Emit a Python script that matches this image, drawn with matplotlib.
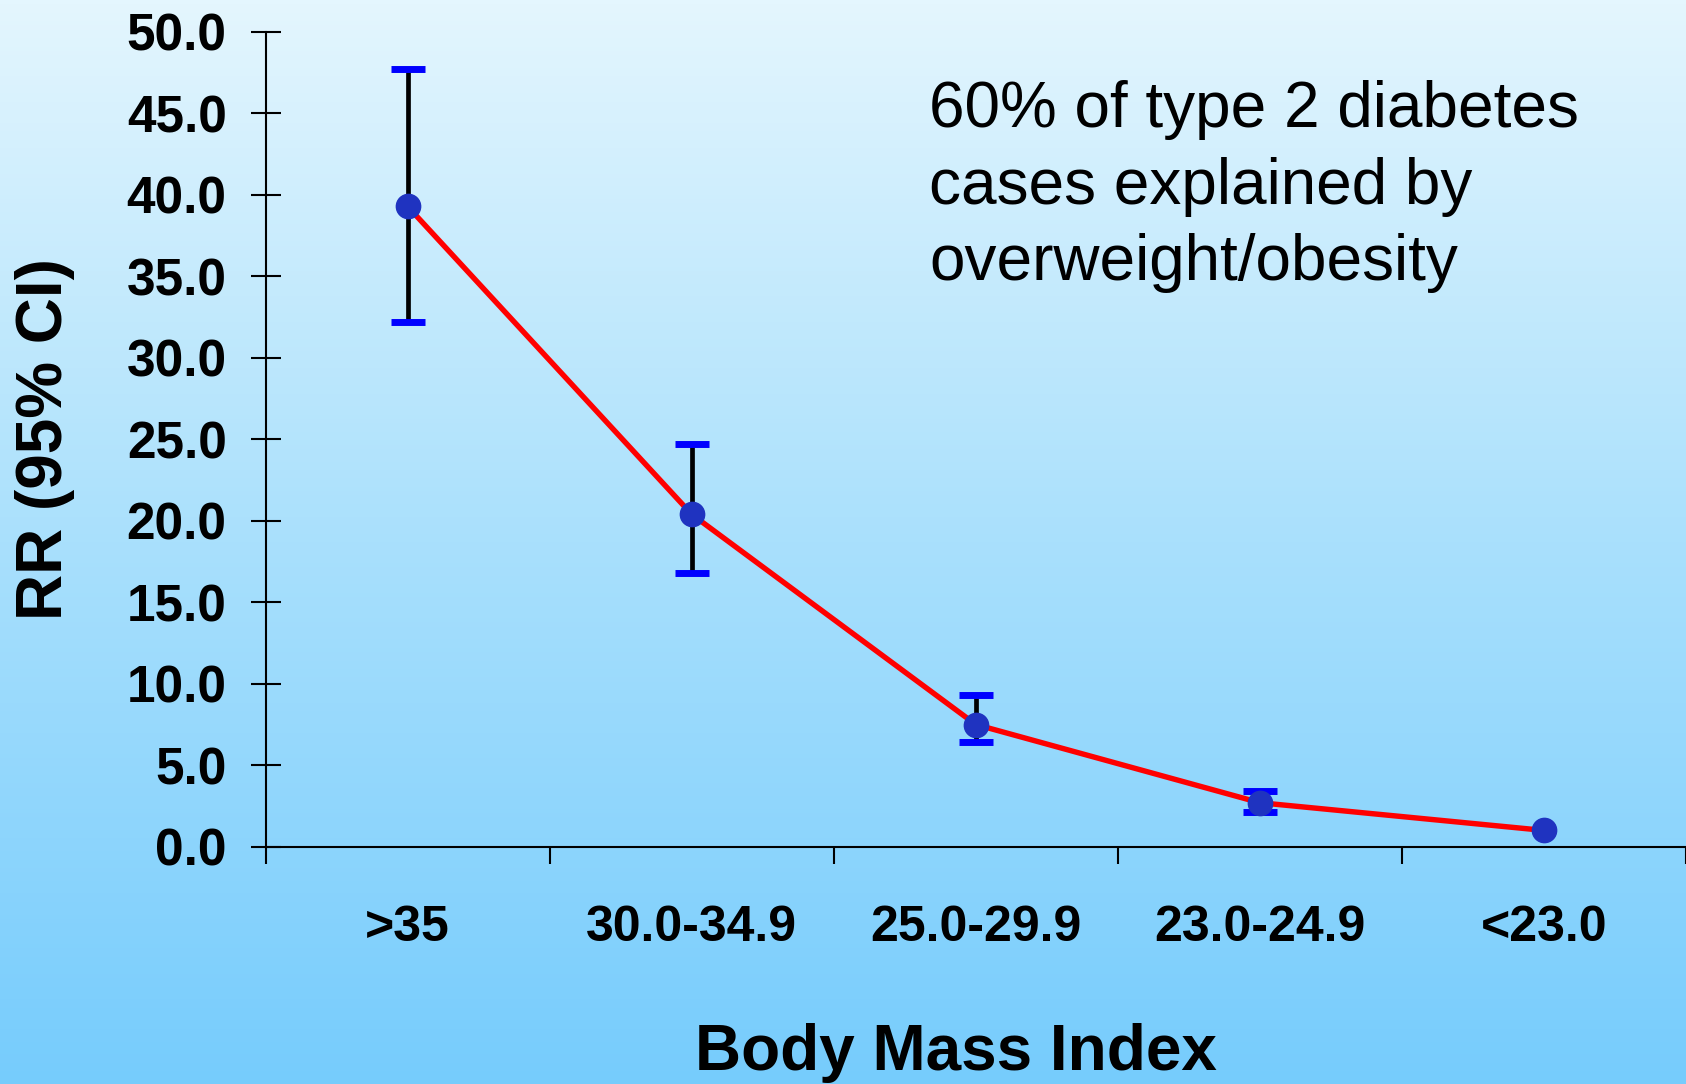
import numpy as np
from matplotlib import pyplot as plt
from matplotlib.colors import LinearSegmentedColormap

plt.rcParams['font.family'] = ['Liberation Sans', 'DejaVu Sans']

categories = ['>35', '30.0-34.9', '25.0-29.9', '23.0-24.9', '<23.0']
rr = [39.3, 20.4, 7.5, 2.7, 1.0]
ci_low = [32.2, 16.8, 6.4, 2.15, 1.0]
ci_high = [47.7, 24.7, 9.3, 3.4, 1.0]
yticks = np.arange(0, 50.1, 5.0)

fig = plt.figure(figsize=(16.86, 10.84), dpi=100)

# background gradient
bg = fig.add_axes([0, 0, 1, 1], zorder=-10)
cmap = LinearSegmentedColormap.from_list('bg', ['#e4f6fe', '#a9e0fc', '#76ccfc'])
bg.imshow(np.linspace(0, 1, 256).reshape(-1, 1), aspect='auto', cmap=cmap,
          extent=[0, 1, 0, 1])
bg.axis('off')

ax = fig.add_axes([0.1575, 0.2189, 0.8425, 0.7516])
ax.patch.set_alpha(0)

x = np.arange(len(categories))
y = np.array(rr)
lo = y - np.array(ci_low)
hi = np.array(ci_high) - y

ax.plot(x, y, color='#ff0000', lw=3.9, zorder=2)
has_ci = (lo + hi) > 0
line, caps, bars = ax.errorbar(x[has_ci], y[has_ci], yerr=[lo[has_ci], hi[has_ci]],
                               fmt='none', ecolor='black', elinewidth=3.4,
                               capsize=12.5, capthick=5, zorder=3)
for c in caps:
    c.set_color('#0000ff')
    c.set_markeredgecolor('#0000ff')
    c.set_markerfacecolor('#0000ff')
ax.plot(x, y, 'o', color='#1f33c0', ms=17.5, zorder=4)

ax.set_xlim(-0.5, 4.5)
ax.set_ylim(0, 50)
ax.set_yticks(yticks)
ax.set_yticklabels(['%.1f' % v for v in yticks], fontsize=37, fontweight='bold')
ax.tick_params(axis='y', direction='inout', length=22, width=1.5, pad=17)

ax.set_xticks(np.arange(-0.5, 4.6, 1.0))
ax.set_xticklabels([])
ax.tick_params(axis='x', which='major', direction='out', length=12, width=1.5)
ax.set_xticks(x, minor=True)
ax.set_xticklabels(categories, minor=True, fontsize=36, fontweight='bold')
ax.tick_params(axis='x', which='minor', length=0, pad=42)

for s in ['top', 'right']:
    ax.spines[s].set_visible(False)
ax.spines['left'].set_linewidth(1.5)
ax.spines['bottom'].set_linewidth(1.5)

ax.set_xlabel('Body Mass Index', fontsize=46, fontweight='bold', labelpad=52)
ax.xaxis.label.set_x(0.486)
ax.set_ylabel('RR (95% CI)', fontsize=46, fontweight='bold', labelpad=37)

fig.text(929 / 1686, 1 - 280 / 1084,
         '60% of type 2 diabetes\ncases explained by\noverweight/obesity',
         fontsize=46, va='baseline', ha='left', linespacing=1.35)

plt.savefig('out.png')
